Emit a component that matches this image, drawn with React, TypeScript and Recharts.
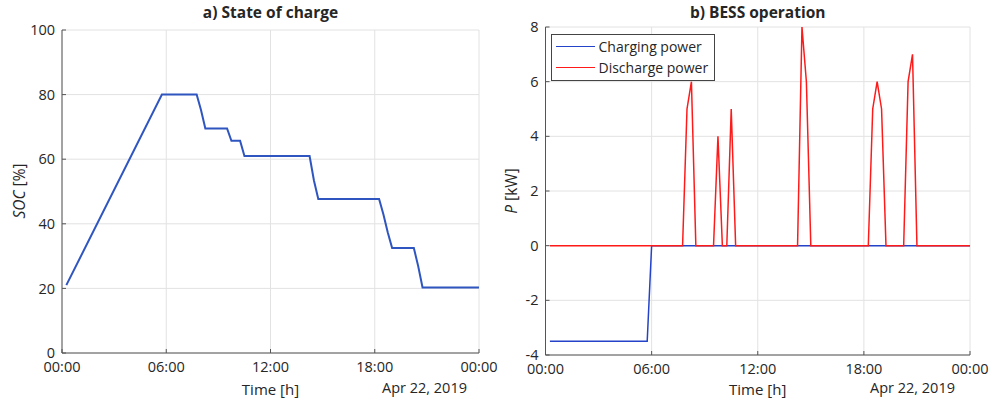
import React from 'react';
import { LineChart, Line, XAxis, YAxis, CartesianGrid, Legend } from 'recharts';

// time axis, hours of the day
const hourTicks = [0, 6, 12, 18, 24];

// a) state of charge, vertices of the line (hour, %)
const socTime = [0.25, 5.75, 7.75, 8.0, 8.25, 9.5, 9.75, 10.25, 10.5, 14.25, 14.5, 14.75, 18.25, 18.5, 18.75, 19.0, 20.25, 20.5, 20.75, 24];
const socValue = [21, 80, 80, 75.2, 69.5, 69.5, 65.7, 65.7, 61, 61, 53.4, 47.7, 47.7, 42.9, 37.3, 32.5, 32.5, 26.9, 20.3, 20.3];
const socTicks = [0, 20, 40, 60, 80, 100];

// b) BESS operation (hour, kW)
const chargeTime = [0.25, 5.75, 6.0, 24];
const chargeValue = [-3.5, -3.5, 0, 0];
const dischargeTime = [0.25, 7.75, 8.0, 8.25, 8.5, 9.5, 9.75, 10.0, 10.25, 10.5, 10.75, 14.25, 14.5, 14.75, 15.0, 18.25, 18.5, 18.75, 19.0, 19.25, 20.25, 20.5, 20.75, 21.0, 24];
const dischargeValue = [0, 0, 5, 6, 0, 0, 4, 0, 0, 5, 0, 0, 8, 6, 0, 0, 5, 6, 5, 0, 0, 6, 7, 0, 0];
const powerTicks = [-4, -2, 0, 2, 4, 6, 8];

const toRows = (t: number[], v: number[]) => t.map((x, i) => ({ t: x, v: v[i] }));
const fmtHour = (h: number) => `${String(h % 24).padStart(2, '0')}:00`;

const FONT = '"Open Sans", sans-serif';
const AXIS = '#555555';
const TEXT = '#262626';
const GRID = '#e2e2e2';
const tickStyle = { fill: TEXT, fontSize: 14.5, fontFamily: FONT };
const noTick = () => <g />;

const abs = (extra: React.CSSProperties): React.CSSProperties => ({
  position: 'absolute', fontFamily: FONT, color: TEXT, fontSize: 15, lineHeight: 1.1, whiteSpace: 'nowrap', ...extra,
});

function PowerLegend({ payload }: any) {
  return (
    <div style={{ border: '1px solid #444', background: '#fff', padding: '1px 6px 2px 4px', fontFamily: FONT, fontSize: 14, color: TEXT }}>
      {(payload || []).map((p: any) => (
        <div key={p.value} style={{ display: 'flex', alignItems: 'center', height: 21 }}>
          <div style={{ width: 39, height: 0, borderTop: `1.5px solid ${p.color}`, marginRight: 4 }} />
          <span>{p.value}</span>
        </div>
      ))}
    </div>
  );
}

export default function App() {
  return (
    <div style={{ position: 'absolute', left: 0, top: 0, width: 995, height: 404, background: '#fff' }}>
      {/* a) state of charge */}
      <div style={{ position: 'absolute', left: 0, top: 0 }}>
        <LineChart width={505} height={404} margin={{ top: 30, right: 26, bottom: 21, left: 22 }}>
          <CartesianGrid stroke={GRID} />
          <XAxis type="number" dataKey="t" domain={[0, 24]} ticks={hourTicks} tickFormatter={fmtHour} height={30}
            stroke={AXIS} tickSize={-4} tickMargin={13} tick={tickStyle} allowDataOverflow />
          <YAxis type="number" domain={[0, 100]} ticks={socTicks} width={40} stroke={AXIS} tickSize={-4} tickMargin={11}
            tick={tickStyle} allowDataOverflow />
          <XAxis xAxisId="top" orientation="top" type="number" dataKey="t" domain={[0, 24]} ticks={hourTicks} height={0}
            stroke={AXIS} tickSize={-4} tick={noTick} allowDataOverflow />
          <YAxis yAxisId="right" orientation="right" type="number" domain={[0, 100]} ticks={socTicks} width={0}
            stroke={AXIS} tickSize={-4} tick={noTick} allowDataOverflow />
          <Line data={toRows(socTime, socValue)} dataKey="v" stroke="#2f55c0" strokeWidth={2} dot={false} isAnimationActive={false} />
        </LineChart>
      </div>

      {/* b) BESS operation */}
      <div style={{ position: 'absolute', left: 490, top: 0 }}>
        <LineChart width={505} height={404} margin={{ top: 27, right: 25, bottom: 19, left: 15.5 }}>
          <CartesianGrid stroke={GRID} />
          <XAxis type="number" dataKey="t" domain={[0, 24]} ticks={hourTicks} tickFormatter={fmtHour} height={30}
            stroke={AXIS} tickSize={-4} tickMargin={13} tick={tickStyle} allowDataOverflow />
          <YAxis type="number" domain={[-4, 8]} ticks={powerTicks} width={40} stroke={AXIS} tickSize={-4} tickMargin={11}
            tick={tickStyle} allowDataOverflow />
          <XAxis xAxisId="top" orientation="top" type="number" dataKey="t" domain={[0, 24]} ticks={hourTicks} height={0}
            stroke={AXIS} tickSize={-4} tick={noTick} allowDataOverflow />
          <YAxis yAxisId="right" orientation="right" type="number" domain={[-4, 8]} ticks={powerTicks} width={0}
            stroke={AXIS} tickSize={-4} tick={noTick} allowDataOverflow />
          <Legend layout="vertical" align="center" verticalAlign="middle" content={<PowerLegend />}
            wrapperStyle={{ left: 60.5, top: 33.5, width: 'auto', height: 'auto' }} />
          <Line data={toRows(chargeTime, chargeValue)} dataKey="v" name="Charging power" stroke="#2443c8" strokeWidth={1.5}
            dot={false} isAnimationActive={false} />
          <Line data={toRows(dischargeTime, dischargeValue)} dataKey="v" name="Discharge power" stroke="#ff1a1a" strokeWidth={1.5}
            dot={false} isAnimationActive={false} />
        </LineChart>
      </div>

      {/* titles and axis labels */}
      <div style={abs({ left: 270.5, top: 13, transform: 'translate(-50%, -50%)', fontWeight: 700, fontSize: 15.5 })}>a) State of charge</div>
      <div style={abs({ left: 757.7, top: 13, transform: 'translate(-50%, -50%)', fontWeight: 700, fontSize: 15.5 })}>b) BESS operation</div>
      <div style={abs({ left: 20, top: 191, transform: 'translate(-50%, -50%) rotate(-90deg)', fontSize: 15.5 })}><i>SOC</i> [%]</div>
      <div style={abs({ left: 512, top: 191, transform: 'translate(-50%, -50%) rotate(-90deg)', fontSize: 15.5 })}><i>P</i> [kW]</div>
      <div style={abs({ left: 270.5, top: 389, transform: 'translate(-50%, -50%)' })}>Time [h]</div>
      <div style={abs({ left: 757.7, top: 389, transform: 'translate(-50%, -50%)' })}>Time [h]</div>
      <div style={abs({ left: 467, top: 388, transform: 'translate(-100%, -50%)', fontSize: 14.5 })}>Apr 22, 2019</div>
      <div style={abs({ left: 955, top: 388, transform: 'translate(-100%, -50%)', fontSize: 14.5 })}>Apr 22, 2019</div>
    </div>
  );
}
